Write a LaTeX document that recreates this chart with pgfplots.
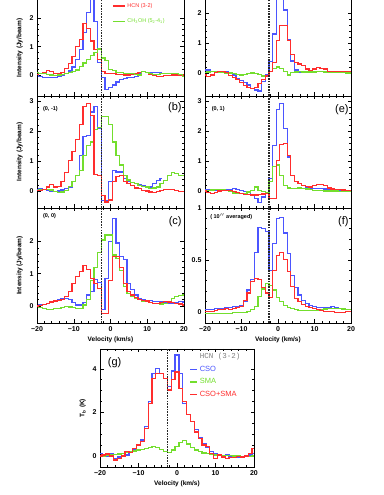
\documentclass[border=0pt]{standalone}
\usepackage{fontspec}
\setmainfont{Liberation Sans}
\setmonofont{Liberation Mono}
\usepackage{pgfplots}
\usepackage{pgfplotstable}
\pgfplotsset{compat=1.18}

\definecolor{cblue}{RGB}{75,85,255}
\definecolor{cred}{RGB}{255,45,45}
\definecolor{cgreen}{RGB}{115,222,45}

% columns: velocity, HCN (red), HCN (blue), CH3OH / SMA (green)
\pgfplotstableread{
v r b g
-20 0.03 0.02 0.08
-19 0.04 -0.05 0.06
-18 0.08 -0.08 0.04
-17 0.15 -0.10 0.02
-16 0.12 -0.10 0.00
-15 0.06 -0.08 -0.01
-14 0.04 -0.05 0.00
-13 0.08 0.00 0.02
-12 0.22 0.06 0.05
-11 0.40 0.14 0.08
-10 0.65 0.28 0.12
-9 1.00 0.55 0.18
-8 1.25 0.90 0.30
-7 1.82 1.50 0.42
-6 1.65 2.20 0.55
-5 1.20 3.30 0.70
-4 0.90 1.90 0.80
-3 0.55 0.45 0.92
-2 0.12 -0.10 0.60
-1 0.05 -0.50 0.50
0 0.05 -0.45 0.20
1 0.04 -0.35 0.15
2 0.03 -0.25 0.10
3 0.02 -0.17 0.08
4 0.00 -0.12 0.06
5 0.00 -0.10 0.05
6 0.02 -0.08 0.04
7 0.05 -0.05 0.02
8 0.08 0.05 0.00
9 0.12 0.12 0.12
10 0.08 0.10 0.10
11 0.03 0.10 0.06
12 -0.03 0.10 0.03
13 -0.05 0.10 0.02
14 -0.05 0.10 0.04
15 -0.03 nan 0.05
16 -0.02 nan 0.05
17 0.00 nan 0.05
18 0.00 nan 0.05
19 0.00 nan 0.03
20 0.00 nan -0.05
}\tabA

\pgfplotstableread{
v r b g
-20 0.02 0.05 0.02
-19 0.02 0.06 0.03
-18 0.05 0.05 0.05
-17 0.13 0.03 0.05
-16 0.20 0.00 0.03
-15 0.13 -0.02 -0.02
-14 0.15 0.00 -0.05
-13 0.30 0.03 -0.04
-12 0.60 0.08 0.02
-11 1.00 0.13 0.15
-10 1.30 0.30 0.30
-9 1.70 0.52 0.52
-8 2.20 1.19 0.69
-7 2.80 1.80 1.19
-6 2.92 1.85 1.52
-5 2.52 2.63 1.63
-4 0.55 2.82 2.05
-3 0.50 2.08 2.10
-2 -0.15 -0.31 2.47
-1 -0.37 -0.31 2.47
0 -0.30 0.30 2.20
1 0.30 0.69 1.63
2 0.47 0.63 1.19
3 0.52 0.63 0.86
4 0.32 0.41 0.52
5 0.25 0.30 0.36
6 0.19 0.27 0.28
7 0.10 0.24 0.24
8 0.08 0.20 0.19
9 0.02 0.19 0.15
10 0.00 0.13 0.13
11 -0.04 0.13 0.08
12 -0.06 0.24 0.10
13 -0.03 0.35 0.13
14 0.02 0.41 0.24
15 0.04 nan 0.35
16 0.05 nan 0.52
17 0.04 nan 0.60
18 0.02 nan 0.58
19 -0.02 nan 0.52
20 -0.03 nan 0.50
}\tabB

\pgfplotstableread{
v r b g
-20 0.00 0.00 -0.02
-19 0.02 0.03 -0.04
-18 0.05 0.05 -0.07
-17 0.08 0.08 -0.10
-16 0.12 0.13 -0.10
-15 0.15 0.16 -0.08
-14 0.18 0.19 -0.07
-13 0.20 0.22 -0.04
-12 0.29 0.22 -0.02
-11 0.45 0.20 -0.03
-10 0.70 0.10 -0.05
-9 0.91 0.03 -0.07
-8 1.07 0.03 -0.07
-7 1.26 0.10 0.03
-6 1.14 0.34 0.20
-5 0.86 0.45 0.80
-4 0.70 0.81 1.20
-3 0.55 0.72 1.65
-2 -0.23 -0.12 2.05
-1 -0.23 0.86 2.20
0 0.80 2.00 2.20
1 1.53 2.72 1.58
2 1.53 1.95 1.48
3 1.20 1.53 1.10
4 0.70 1.43 0.60
5 0.45 0.70 0.39
6 0.34 0.50 0.29
7 0.25 0.34 0.24
8 0.19 0.24 0.19
9 0.17 0.19 0.15
10 0.15 0.17 0.13
11 0.10 0.16 0.10
12 0.08 0.14 0.08
13 0.08 0.13 0.07
14 0.10 0.12 0.06
15 0.13 0.10 0.08
16 0.12 0.09 0.13
17 0.10 0.08 0.24
18 0.08 0.10 0.29
19 0.06 0.13 0.32
20 0.03 0.12 0.34
}\tabC

\pgfplotstableread{
v r b g
-20 -0.07 0.10 0.02
-19 -0.12 0.10 0.03
-18 -0.07 0.05 0.04
-17 0.02 0.04 0.04
-16 0.06 0.05 0.03
-15 0.05 0.06 0.02
-14 0.02 0.06 0.00
-13 -0.08 0.02 0.00
-12 -0.15 -0.07 -0.02
-11 -0.23 -0.18 -0.05
-10 -0.32 -0.25 -0.07
-9 -0.43 -0.32 -0.05
-8 -0.48 -0.40 -0.03
-7 -0.51 -0.51 0.00
-6 -0.48 -0.57 -0.02
-5 -0.35 -0.60 -0.06
-4 -0.23 -0.29 -0.10
-3 -0.10 -0.07 -0.10
-2 0.04 0.38 0.04
-1 0.36 1.30 0.15
0 1.07 3.00 0.20
1 1.57 3.30 0.15
2 1.57 2.10 0.04
3 1.07 1.10 -0.07
4 0.62 0.40 0.01
5 0.36 0.10 0.03
6 0.30 0.02 0.04
7 0.24 0.02 0.03
8 0.13 0.02 0.03
9 0.07 0.03 0.03
10 0.13 0.04 0.03
11 0.19 0.05 0.04
12 0.16 0.05 0.04
13 0.13 0.05 0.03
14 0.06 0.04 0.03
15 0.04 0.03 0.02
16 0.04 0.03 0.02
17 0.04 0.03 0.01
18 0.04 0.02 0.01
19 0.04 0.02 0.00
20 0.04 0.02 0.00
}\tabD

\pgfplotstableread{
v r b g
-20 0.00 0.04 0.02
-19 -0.05 0.04 0.02
-18 -0.09 0.03 0.03
-17 -0.05 0.02 0.04
-16 0.00 0.02 0.04
-15 0.02 0.02 0.03
-14 0.02 0.03 0.01
-13 0.01 0.05 -0.03
-12 -0.02 0.08 -0.07
-11 -0.05 0.05 -0.09
-10 -0.08 0.02 -0.09
-9 -0.11 -0.01 -0.08
-8 -0.13 -0.03 -0.04
-7 -0.14 -0.14 0.02
-6 -0.14 -0.26 0.13
-5 -0.12 -0.39 0.02
-4 -0.10 -0.20 -0.03
-3 -0.09 -0.09 -0.06
-2 -0.26 0.41 0.30
-1 -0.26 1.52 0.80
0 1.00 2.70 0.86
1 1.55 2.91 0.50
2 1.58 2.08 0.19
3 1.19 1.13 0.10
4 0.52 0.52 0.08
5 0.30 0.30 0.09
6 0.24 0.24 0.10
7 0.19 0.18 0.09
8 0.15 0.13 0.06
9 0.13 0.10 0.04
10 0.17 0.08 0.02
11 0.21 0.08 0.02
12 0.21 0.07 0.01
13 0.17 0.06 0.00
14 0.10 0.04 0.00
15 0.06 0.03 0.00
16 0.05 0.02 0.00
17 0.04 0.01 -0.01
18 0.03 0.00 -0.02
19 0.02 0.00 -0.03
20 0.02 -0.01 -0.03
}\tabE

\pgfplotstableread{
v r b g
-20 0.00 0.02 -0.015
-19 0.00 0.02 -0.015
-18 0.00 0.02 -0.015
-17 0.01 0.03 -0.015
-16 0.02 0.03 -0.015
-15 0.02 0.03 -0.015
-14 0.03 0.04 -0.015
-13 0.02 0.04 -0.015
-12 0.03 0.05 -0.01
-11 0.04 0.05 -0.01
-10 0.05 0.06 -0.01
-9 0.11 0.10 -0.005
-8 0.18 0.21 0.00
-7 0.29 0.31 0.02
-6 0.32 0.57 0.05
-5 0.31 0.81 0.15
-4 0.23 0.80 0.22
-3 0.18 0.77 0.27
-2 0.14 0.40 0.25
-1 0.40 0.66 0.21
0 0.54 0.90 0.14
1 0.57 0.91 0.10
2 0.50 0.76 0.06
3 0.39 0.56 0.04
4 0.24 0.35 0.03
5 0.13 0.23 0.02
6 0.10 0.16 0.01
7 0.07 0.11 0.01
8 0.05 0.08 0.01
9 0.04 0.06 0.01
10 0.03 0.05 0.01
11 0.02 0.04 0.015
12 0.01 0.04 0.02
13 0.00 0.04 0.025
14 0.00 0.04 0.03
15 0.00 0.05 0.03
16 -0.01 0.04 0.03
17 -0.01 0.03 0.03
18 -0.01 0.02 0.025
19 0.00 0.02 0.02
20 0.00 0.02 0.02
}\tabF

\pgfplotstableread{
v r b g
-20 0.00 0.12 -0.03
-19 0.05 0.00 0.00
-18 0.09 0.00 0.03
-17 0.00 0.09 0.05
-16 -0.18 -0.10 0.07
-15 -0.10 -0.05 0.09
-14 0.00 -0.03 0.12
-13 0.20 0.05 0.15
-12 0.15 0.20 0.20
-11 0.35 0.30 0.23
-10 0.50 0.50 0.27
-9 0.66 0.73 0.30
-8 1.27 1.35 0.35
-7 2.40 2.50 0.40
-6 3.56 3.79 0.43
-5 3.80 4.00 0.40
-4 3.80 3.79 0.31
-3 3.56 3.56 0.20
-2 3.03 3.18 0.15
-1 3.50 3.90 0.28
0 3.85 4.63 0.45
1 3.10 3.79 0.62
2 2.50 2.40 0.70
3 1.90 1.90 0.55
4 1.60 1.60 0.40
5 1.10 1.20 0.28
6 0.80 0.85 0.20
7 0.50 0.55 0.14
8 0.43 0.38 0.10
9 0.12 0.20 0.07
10 -0.10 0.12 0.05
11 0.05 0.02 0.04
12 -0.05 0.00 0.03
13 -0.10 0.05 0.02
14 -0.08 0.00 0.01
15 -0.06 -0.06 0.00
16 -0.04 -0.06 0.00
17 -0.05 -0.03 -0.01
18 0.00 0.00 -0.02
19 0.10 0.05 -0.02
20 0.35 0.12 0.00
}\tabG

\pgfplotsset{
  spec/.style={
    scale only axis, anchor=south west,
    xmin=-20, xmax=20, xtick={-20,-10,0,10,20}, minor x tick num=4,
    xticklabels={}, minor y tick num=4,
    tick align=inside, major tick length=3.5pt, minor tick length=1.8pt,
    every tick/.append style={black, line width=0.5pt},
    axis line style={black, line width=0.7pt},
    tick label style={font=\bfseries\fontsize{7}{8}\selectfont},
    label style={font=\bfseries\fontsize{6.5}{7.5}\selectfont},
    /pgf/number format/assume math mode=true,
    legend cell align=left,
  },
  bottomrow/.style={xticklabels={−20,−10,0,10,20}, xlabel={Velocity (km/s)},
    xlabel style={yshift=2pt}},
  sp/.style={const plot mark mid, line width=1.25pt, mark=none},
}
\tikzset{
  paneltag/.style={anchor=north east, inner sep=0pt, font=\fontsize{11}{11}\selectfont},
  poslab/.style={anchor=north west, inner sep=0pt, font=\bfseries\fontsize{5.5}{6}\selectfont},
  vsysline/.style={black!85, line width=1.5pt, dash pattern=on 1.6pt off 1.1pt},
}

\begin{document}
\begin{tikzpicture}
\path[use as bounding box] (0pt,0pt) rectangle (383pt,495pt);

% (a)
\begin{axis}[spec, at={(37pt,399pt)}, width=147pt, height=96pt,
  ymin=-0.742, ymax=2.65, ytick={0,1,2}, axis x line*=bottom,
  ylabel={Intensity (Jy/beam)},
  legend style={at={(0.51,0.99)}, anchor=north west, draw=none, fill=none,
    font=\fontsize{5.5}{6}\selectfont, row sep=6pt, inner sep=0pt},
  legend image code/.code={\draw[#1] (0pt,0pt) -- (12pt,0pt);}]
\addplot[draw=cblue, sp, forget plot] table[x=v, y=b] {\tabA};
\addplot[draw=cred, sp] table[x=v, y=r] {\tabA};
\addlegendentry[text=cred]{HCN (3-2)}
\addplot[draw=cgreen, sp] table[x=v, y=g] {\tabA};
\addlegendentry[text=cgreen]{CH\textsubscript{3}OH (5\textsubscript{2}-4\textsubscript{1})}
\draw[vsysline] ({axis cs:-2.5,0}|-{rel axis cs:0,0}) -- ({axis cs:-2.5,0}|-{rel axis cs:0,1});
\end{axis}

% (d)
\begin{axis}[spec, at={(205pt,399pt)}, width=146pt, height=96pt,
  ymin=-0.767, ymax=2.43, ytick={0,1,2}, axis x line*=bottom]
\addplot[draw=cblue, sp] table[x=v, y=b] {\tabD};
\addplot[draw=cgreen, sp] table[x=v, y=g] {\tabD};
\addplot[draw=cred, sp] table[x=v, y=r] {\tabD};
\draw[vsysline] ({axis cs:-2.5,0}|-{rel axis cs:0,0}) -- ({axis cs:-2.5,0}|-{rel axis cs:0,1});
\end{axis}

% (b)
\begin{axis}[spec, at={(37pt,287pt)}, width=147pt, height=112pt,
  ymin=-0.57, ymax=3.16, ytick={0,1,2,3}, ylabel={Intensity (Jy/beam)}]
\addplot[draw=cblue, sp] table[x=v, y=b] {\tabB};
\addplot[draw=cgreen, sp] table[x=v, y=g] {\tabB};
\addplot[draw=cred, sp] table[x=v, y=r] {\tabB};
\draw[vsysline] ({axis cs:-2.5,0}|-{rel axis cs:0,0}) -- ({axis cs:-2.5,0}|-{rel axis cs:0,1});
\node[paneltag] at (rel axis cs:0.985,0.945) {(b)};
\node[poslab] at (rel axis cs:0.04,0.91) {(0, -1)};
\end{axis}

% (e)
\begin{axis}[spec, at={(205pt,287pt)}, width=146pt, height=112pt,
  ymin=-0.57, ymax=3.16, ytick={0,1,2,3}]
\addplot[draw=cblue, sp] table[x=v, y=b] {\tabE};
\addplot[draw=cgreen, sp] table[x=v, y=g] {\tabE};
\addplot[draw=cred, sp] table[x=v, y=r] {\tabE};
\draw[vsysline] ({axis cs:-2.5,0}|-{rel axis cs:0,0}) -- ({axis cs:-2.5,0}|-{rel axis cs:0,1});
\node[paneltag] at (rel axis cs:0.985,0.93) {(e)};
\node[poslab] at (rel axis cs:0.045,0.91) {(0, 1)};
\end{axis}

% (c)
\begin{axis}[spec, bottomrow, at={(37pt,172pt)}, width=147pt, height=115pt,
  ymin=-0.53, ymax=3.04, ytick={0,1,2}, ylabel={Intensity (Jy/beam)}]
\addplot[draw=cblue, sp] table[x=v, y=b] {\tabC};
\addplot[draw=cgreen, sp] table[x=v, y=g] {\tabC};
\addplot[draw=cred, sp] table[x=v, y=r] {\tabC};
\draw[vsysline] ({axis cs:-2.5,0}|-{rel axis cs:0,0}) -- ({axis cs:-2.5,0}|-{rel axis cs:0,1});
\node[paneltag] at (rel axis cs:0.985,0.925) {(c)};
\node[poslab] at (rel axis cs:0.04,0.955) {(0, 0)};
\end{axis}

% (f)
\begin{axis}[spec, bottomrow, at={(205pt,172pt)}, width=146pt, height=115pt,
  ymin=-0.109, ymax=1.0, ytick={0,0.5,1}, yticklabels={0,0.5,1}]
\addplot[draw=cblue, sp] table[x=v, y=b] {\tabF};
\addplot[draw=cgreen, sp] table[x=v, y=g] {\tabF};
\addplot[draw=cred, sp] table[x=v, y=r] {\tabF};
\draw[vsysline] ({axis cs:-2.5,0}|-{rel axis cs:0,0}) -- ({axis cs:-2.5,0}|-{rel axis cs:0,1});
\node[paneltag] at (rel axis cs:0.985,0.925) {(f)};
\node[poslab] at (rel axis cs:0.035,0.95) {( 10$''$ averaged)};
\end{axis}

% (g)
\begin{axis}[spec, bottomrow, at={(100pt,28pt)}, width=154pt, height=118pt,
  ymin=-0.505, ymax=4.91, ytick={0,2,4}, minor y tick num=3,
  ylabel={T\textsubscript{b} (K)},
  legend style={at={(0.58,0.985)}, anchor=north west, draw=none, fill=none,
    font=\fontsize{7.5}{8}\selectfont, row sep=2pt, inner sep=0pt},
  legend image code/.code={\draw[#1] (0pt,0pt) -- (7pt,0pt);}]
\addlegendimage{empty legend}
\addlegendentry[text=gray]{\ttfamily HCN (3-2)}
\addplot[draw=cblue, sp] table[x=v, y=b] {\tabG};
\addlegendentry[text=cblue]{CSO}
\addplot[draw=cgreen, sp] table[x=v, y=g] {\tabG};
\addlegendentry[text=cgreen]{SMA}
\addplot[draw=cred, sp] table[x=v, y=r] {\tabG};
\addlegendentry[text=cred]{CSO+SMA}
\draw[vsysline] ({axis cs:-2.5,0}|-{rel axis cs:0,0}) -- ({axis cs:-2.5,0}|-{rel axis cs:0,1});
\node[anchor=north west, inner sep=0pt, font=\fontsize{11}{11}\selectfont]
  at (rel axis cs:0.05,0.93) {(g)};
\end{axis}
\end{tikzpicture}
\end{document}
